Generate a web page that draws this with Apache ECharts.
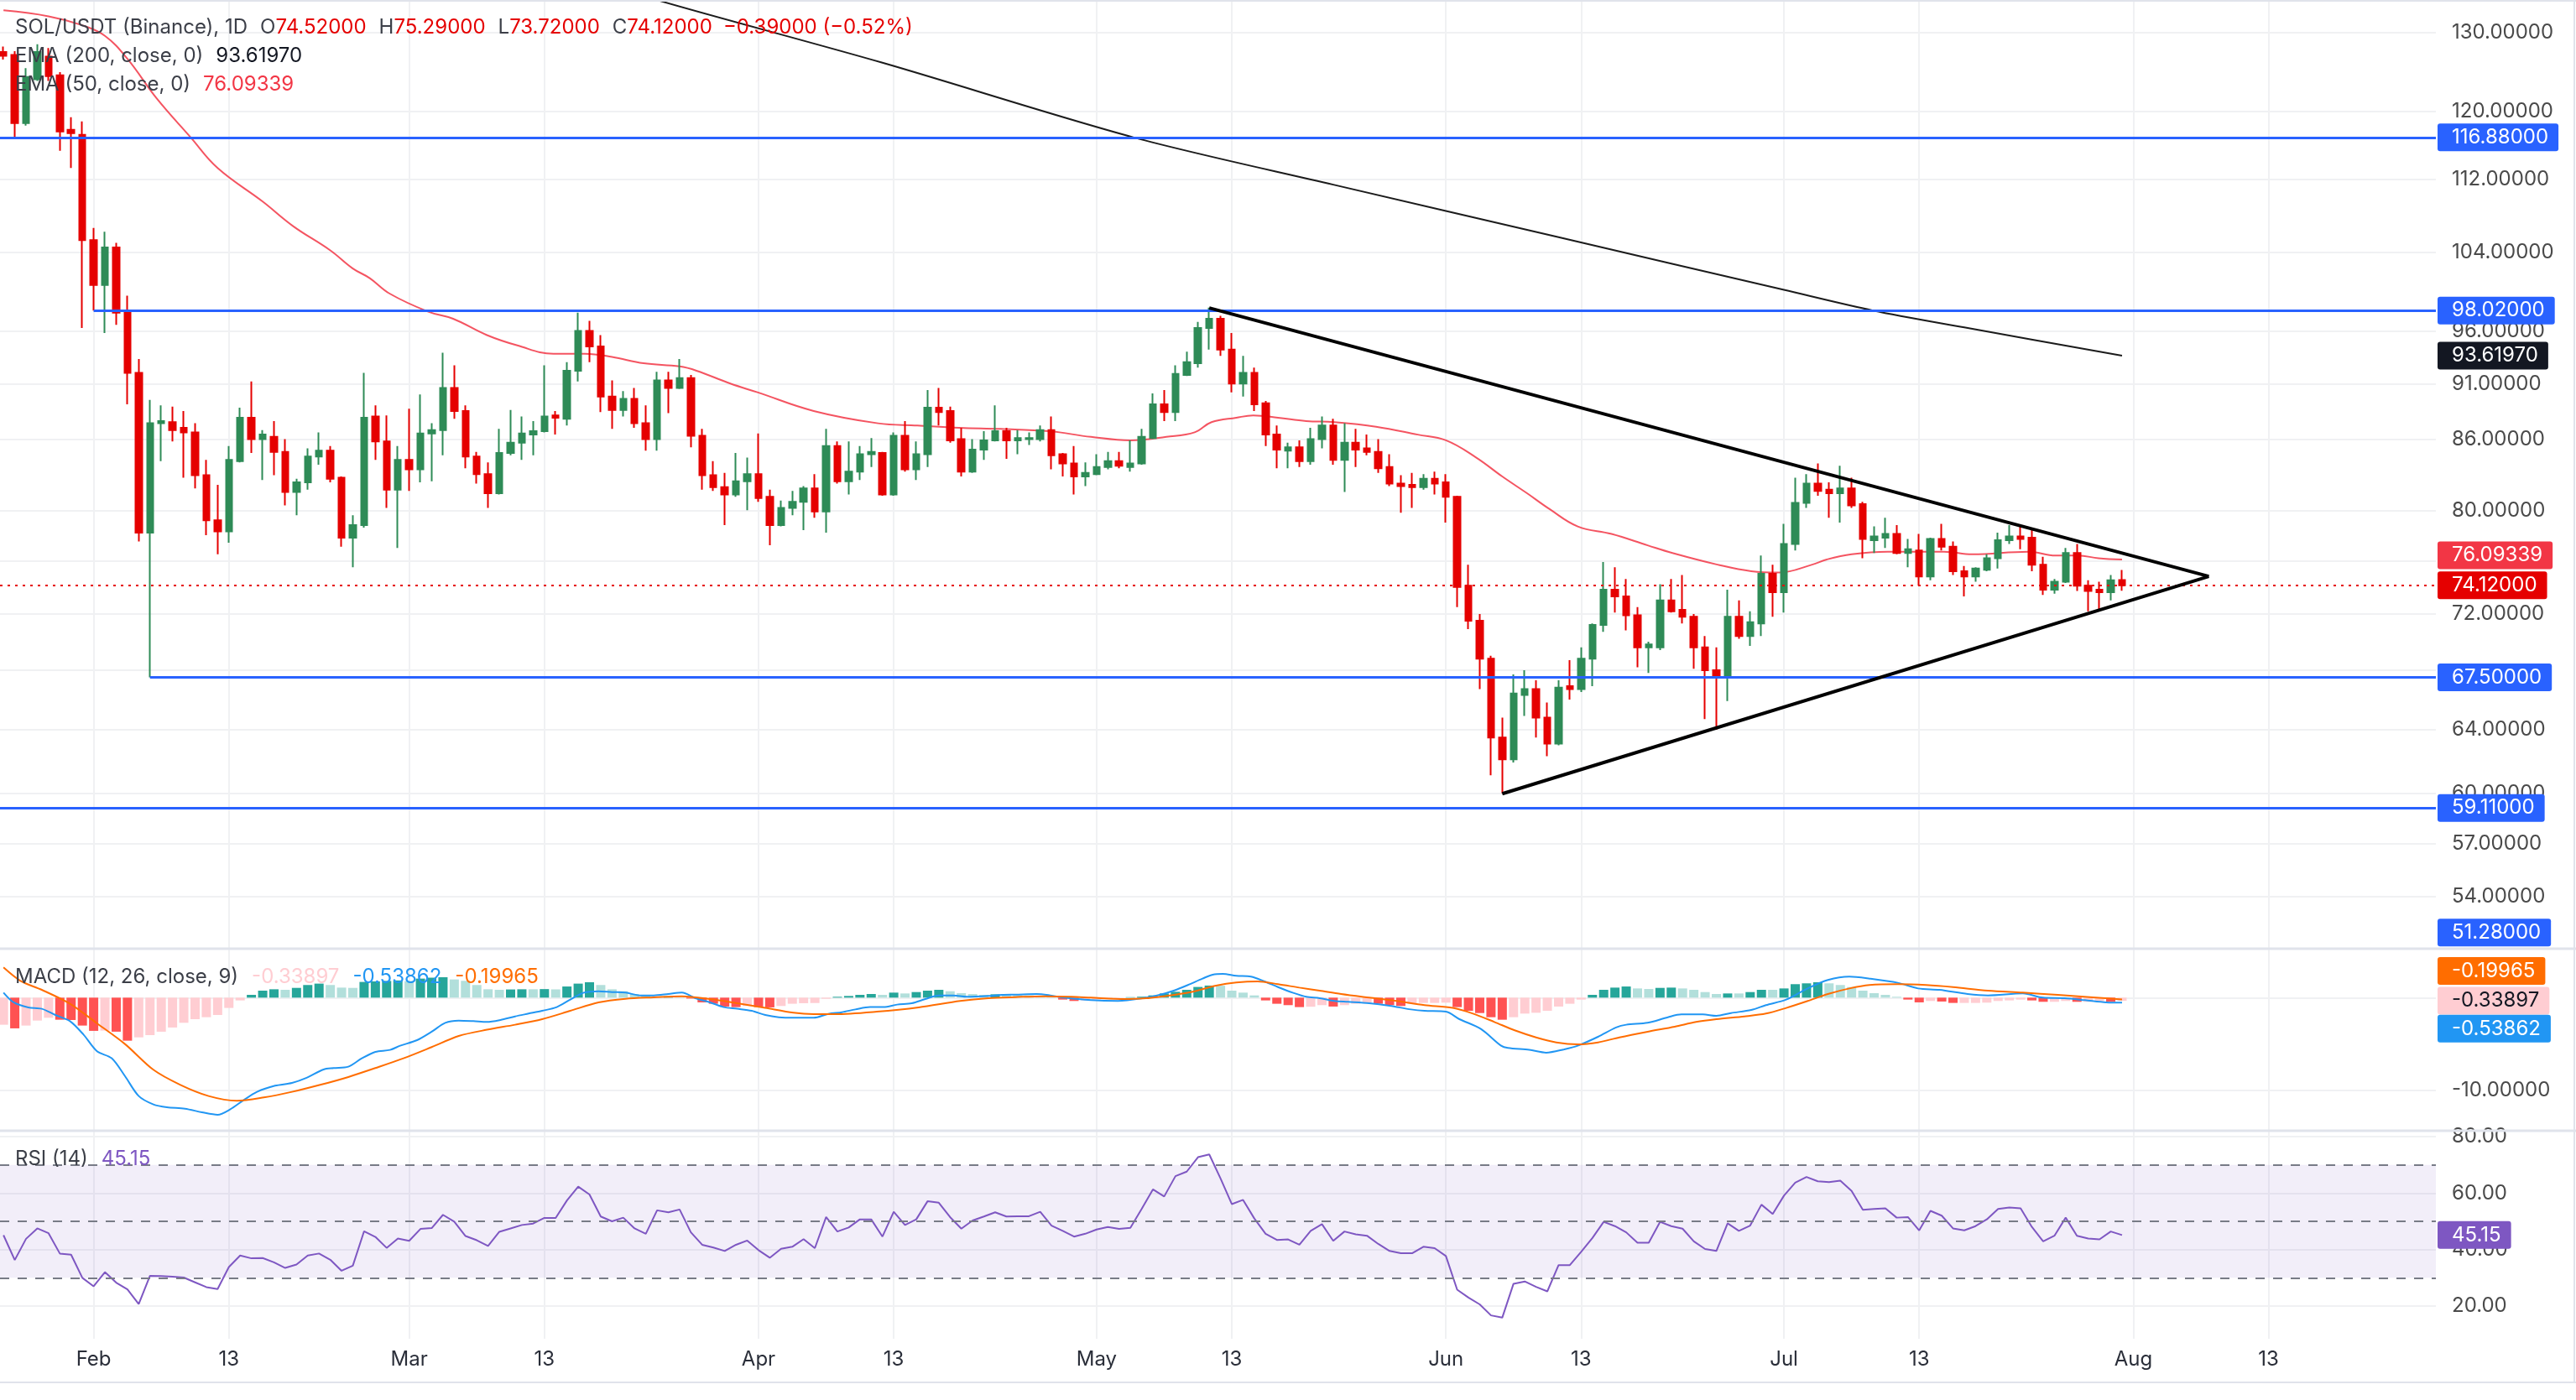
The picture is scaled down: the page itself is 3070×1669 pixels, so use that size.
<!DOCTYPE html>
<html><head><meta charset="utf-8">
<script src="https://cdn.jsdelivr.net/npm/echarts@6/dist/echarts.min.js"></script>
<style>html,body{margin:0;padding:0;background:#fff}#c{width:3070px;height:1669px}</style>
</head><body><div id="c"></div>
<script>
// ---------------- DATA ----------------
// day index: 0 = 1 Feb; first candle = 24 Jan (day -8)
const firstDay = -8;
// [open, high, low, close]
const candles = [
[127.5,128.2,126.5,127.0],[127.1,127.6,116.9,118.6],[118.6,125.4,118.3,124.3],[124.0,128.5,123.8,127.5],
[126.9,128.0,123.8,124.4],[124.5,124.9,115.3,117.6],[117.8,119.3,113.3,117.4],[117.2,118.8,96.3,105.3],
// Feb
[105.3,106.6,98.02,100.6],[100.6,106.2,95.8,104.5],[104.5,105.0,96.6,97.8],[97.8,99.5,89.1,92.0],
[92.0,93.3,77.5,78.2],[78.2,89.5,67.5,87.4],[87.4,89.0,84.1,87.6],[87.5,88.9,85.8,86.8],
[87.0,88.5,82.7,86.6],[86.6,87.4,81.8,82.9],[82.9,84.2,78.0,79.2],[79.2,82.1,76.5,78.3],
[78.3,85.4,77.4,84.2],[84.1,88.8,84.0,87.9],[87.9,91.2,84.8,86.0],[86.0,86.8,82.5,86.4],
[86.2,87.6,82.9,84.9],[84.9,86.0,80.4,81.5],[81.5,82.6,79.6,82.3],[82.3,85.2,81.7,84.5],
[84.5,86.6,83.8,85.0],[85.0,85.4,82.3,82.6],[82.7,82.8,77.1,77.8],[77.8,79.6,75.5,78.8],
[78.8,92.0,78.6,87.9],[88.0,89.0,84.2,85.8],[85.8,88.1,80.2,81.7],[81.7,85.4,77.0,84.2],
// Mar
[84.2,88.7,81.6,83.4],[83.4,90.0,82.3,86.5],[86.5,87.4,82.4,86.8],[86.8,93.9,84.6,90.6],
[90.6,92.7,87.8,88.5],[88.5,89.0,83.5,84.5],[84.5,84.9,82.2,83.0],[83.0,84.0,80.2,81.4],
[81.4,86.9,81.3,84.8],[84.8,88.6,84.6,85.7],[85.7,88.0,84.2,86.5],[86.4,87.6,84.6,86.7],
[86.7,92.7,86.6,88.0],[88.1,88.5,86.4,87.9],[87.8,93.0,87.2,92.2],[92.2,97.8,91.2,96.0],
[96.0,97.0,93.0,94.5],[94.5,95.6,88.4,89.8],[89.8,91.3,86.9,88.6],[88.6,90.3,88.0,89.6],
[89.6,90.6,87.0,87.4],[87.4,89.0,85.0,86.0],[86.0,92.1,85.0,91.3],[91.3,92.1,88.3,90.6],
[90.6,93.3,90.5,91.5],[91.5,91.8,85.3,86.3],[86.3,86.9,81.7,82.9],[82.9,84.1,81.6,81.9],
[81.9,83.1,78.8,81.3],[81.3,84.8,81.1,82.4],[82.4,84.4,80.0,83.0],
// Apr
[83.0,86.5,80.7,81.0],[81.1,81.7,77.2,78.8],[78.8,80.8,78.7,80.2],[80.2,81.6,79.6,80.7],
[80.7,82.0,78.4,81.8],[81.8,83.0,79.4,79.9],[79.9,86.9,78.2,85.4],[85.4,85.8,82.2,82.4],
[82.4,85.8,81.3,83.2],[83.2,85.4,82.5,84.7],[84.7,86.1,83.6,84.9],[84.8,84.9,81.2,81.3],
[81.3,86.6,81.2,86.3],[86.3,87.6,83.2,83.4],[83.4,85.8,82.5,84.7],[84.7,90.4,83.6,88.8],
[88.8,90.6,87.2,88.4],[88.5,88.9,85.7,85.9],[86.0,87.0,82.8,83.2],[83.2,86.0,83.1,85.1],
[85.1,86.7,84.2,85.9],[85.9,89.0,85.8,86.7],[86.7,87.0,84.3,85.9],[85.9,86.8,84.7,86.1],
[86.0,86.6,85.5,86.1],[86.0,87.2,85.8,86.8],[86.8,88.0,83.4,84.6],[84.7,84.8,82.8,83.9],
[83.9,85.4,81.3,82.8],[82.8,84.0,82.0,83.1],
// May
[83.0,84.7,82.9,83.6],[83.6,84.9,83.4,84.1],[84.1,84.9,83.5,83.7],[83.6,85.9,83.2,83.9],
[83.9,86.9,83.8,86.2],[86.1,90.1,86.0,89.1],[89.1,90.4,87.6,88.4],[88.4,92.7,87.6,91.9],
[91.8,94.0,91.7,93.0],[92.9,96.9,92.5,96.3],[96.3,98.3,94.2,97.2],[97.2,97.5,93.6,94.2],
[94.2,95.8,90.2,91.0],[91.0,93.6,89.8,92.0],[92.0,92.5,88.5,89.1],[89.2,89.4,85.4,86.4],
[86.4,87.2,83.5,85.1],[85.0,85.7,83.5,85.3],[85.3,85.9,83.6,84.1],[84.1,87.0,83.8,86.0],
[86.0,88.0,85.2,87.2],[87.2,87.8,83.8,84.2],[84.2,87.4,81.5,85.7],[85.7,86.9,83.6,85.1],
[85.2,86.4,84.6,84.9],[84.9,86.0,83.1,83.5],[83.6,84.7,82.0,82.2],[82.2,82.9,79.8,82.0],
[82.1,83.1,80.2,81.9],[81.9,83.0,81.7,82.6],[82.6,83.2,81.3,82.2],
// Jun
[82.3,83.0,79.0,81.1],[81.1,81.2,72.5,74.0],[74.1,75.7,70.9,71.5],[71.5,72.0,66.7,68.8],
[68.8,69.0,61.1,63.5],[63.5,64.8,60.0,62.1],[62.1,67.7,61.9,66.4],[66.3,68.0,64.9,66.7],
[66.7,67.3,63.5,64.8],[64.8,65.8,62.3,63.1],[63.1,67.3,63.0,66.8],[66.9,68.7,66.0,66.7],
[66.7,69.6,66.5,68.8],[68.8,71.3,66.9,71.2],[71.2,75.9,70.7,73.8],[73.8,75.5,72.1,73.3],
[73.3,74.6,70.8,71.9],[71.9,72.5,68.2,69.6],[69.6,70.0,67.8,69.8],[69.6,74.2,69.4,73.0],
[73.0,74.6,72.1,72.2],[72.3,74.9,71.3,71.8],[71.8,72.0,68.1,69.6],[69.6,70.4,64.7,68.0],
[68.0,69.6,64.0,67.6],[67.6,73.8,65.9,71.8],[71.8,73.0,70.2,70.4],[70.4,72.2,69.7,71.4],
[71.3,76.4,70.4,75.0],[75.0,75.7,71.8,73.6],
// Jul
[73.6,78.9,72.1,77.3],[77.3,82.7,76.8,80.6],[80.6,83.0,80.2,82.2],[82.2,83.9,81.2,81.6],
[81.7,82.3,79.4,81.4],[81.4,83.7,79.0,81.8],[81.8,82.7,80.2,80.4],[80.5,80.7,76.2,77.7],
[77.6,78.7,76.6,77.9],[77.8,79.4,77.0,78.1],[78.1,78.8,76.5,76.6],[76.6,77.7,75.5,76.9],
[76.8,78.1,74.1,74.8],[74.8,77.8,74.5,77.7],[77.7,78.9,76.8,77.1],[77.1,77.5,74.9,75.2],
[75.2,75.6,73.3,74.8],[74.8,75.5,74.4,75.4],[75.3,76.5,75.2,76.2],[76.2,78.2,75.4,77.6],
[77.6,78.8,77.3,77.9],[77.9,78.7,76.9,77.7],[77.8,78.5,75.2,75.7],[75.7,76.3,73.4,73.8],
[73.8,74.6,73.5,74.4],[74.4,77.0,74.3,76.6],[76.6,77.3,73.7,74.1],[74.1,74.5,72.2,73.7],
[73.8,74.4,72.2,73.6],[73.6,74.9,73.0,74.5],[74.52,75.29,73.72,74.12]
];
// EMA 50 read at points [day, value]
const ema50 = [[-8,133.0],[-4,132.2],[-1,131.0],[1,129.6],[3,126.6],[5.6,121.6],[8.6,116.9],[11,113.3],[15,109.5],[17.7,106.8],[21,104.2],[23,102.3],[24.5,101.3],[26.3,99.7],[29.7,97.9],[31.9,97.2],[34.9,95.6],[37.6,94.6],[40.8,93.8],[43.6,93.8],[46,93.5],[48.8,92.9],[52,92.6],[53.5,92.2],[56.5,91.0],[58.9,90.2],[63.9,88.5],[69.6,87.4],[73.1,87.2],[76.8,87.0],[80.5,86.9],[84.8,86.7],[88.5,86.2],[92,85.9],[95.2,86.2],[97.7,86.6],[99.2,87.5],[101.4,87.9],[102.9,88.1],[105.1,87.9],[107.6,87.6],[110.1,87.5],[113.8,87.1],[117.5,86.4],[120,85.9],[122.7,84.4],[125,82.8],[127.2,81.4],[129.2,80.1],[131.7,78.7],[134.7,78.1],[137.9,77.2],[140.1,76.6],[144.1,75.7],[147.1,75.2],[149.6,75.1],[152.5,75.7],[153.8,76.1],[156,76.5],[159.2,76.7],[164.2,76.7],[166.7,76.5],[171.7,76.7],[174.1,76.4],[176.1,76.4],[177.9,76.2],[180,76.09339]];
// EMA 200 read at points [day, value]
const ema200 = [[-8,164],[10,154],[30,144],[50,134.4],[70,126.1],[92.3,116.88],[110,111.4],[130,105.6],[150,100.1],[157.9,98.02],[166,96.35],[180,93.6197]];
// MACD line / signal read at points [day, value]
const macdLine = [[-8,0.54],[-7.1,-0.51],[-5.8,-1.05],[-4.6,-1.2],[-3.4,-1.87],[-2.1,-2.53],[-0.9,-3.98],[0.3,-5.78],[1.6,-6.53],[2.8,-8.49],[4.0,-10.6],[5.3,-11.5],[6.5,-11.81],[8.1,-11.96],[9.6,-12.35],[11,-12.62],[12.1,-12.05],[13.3,-11.05],[14.5,-10.15],[16.1,-9.49],[17.6,-9.19],[18.9,-8.64],[20.4,-7.74],[21.3,-7.59],[22.6,-7.44],[23.8,-6.54],[25,-5.84],[26.3,-5.63],[27.2,-5.18],[28.7,-4.58],[30,-3.67],[31.2,-2.71],[32.4,-2.47],[33.7,-2.53],[34.9,-2.62],[36.1,-2.41],[37.4,-2.02],[38.6,-1.72],[39.8,-1.42],[41.1,-1.02],[42.3,-0.21],[43.5,0.54],[44.8,0.69],[46,0.6],[47.2,0.54],[48.5,0.24],[49.7,0.24],[51,0.39],[52.2,0.54],[53.4,-0.06],[54.7,-0.51],[55.9,-1.02],[57.1,-1.2],[58.4,-1.42],[59.6,-1.87],[60.8,-2.11],[62.1,-2.17],[63.9,-2.17],[65.2,-1.75],[66.4,-1.57],[67.6,-1.27],[68.9,-1.02],[70.1,-1.02],[71.3,-0.75],[72.6,-0.6],[73.8,-0.15],[75,0.24],[76.3,0.24],[77.5,0.09],[79.4,0.18],[80.6,0.3],[81.8,0.33],[83.7,0.39],[84.9,0.24],[86.1,0.0],[88.5,-0.27],[90.9,-0.36],[93.4,0.0],[94.6,0.3],[95.9,0.78],[97.1,1.36],[98.4,2.05],[99.3,2.47],[100.2,2.56],[101.4,2.35],[102.7,2.26],[103.9,1.75],[105.1,1.14],[106.4,0.54],[107.6,0.09],[108.8,-0.06],[110.1,-0.36],[111.3,-0.45],[113.2,-0.6],[115,-0.87],[116.9,-1.27],[118.1,-1.42],[120,-1.51],[121.2,-2.32],[123.1,-3.37],[124.9,-5.18],[125.5,-5.42],[127.4,-5.63],[128.9,-5.93],[130.5,-5.57],[131.7,-5.18],[133.5,-4.22],[135.1,-3.22],[136,-2.92],[137.9,-2.71],[139.7,-2.11],[140.9,-1.81],[142.8,-1.81],[144,-1.96],[145.3,-1.66],[147.1,-1.33],[148.4,-0.81],[150.2,-0.21],[152.1,0.99],[153.9,1.9],[155.8,2.26],[157.6,2.05],[160.1,1.6],[161.9,0.99],[163.8,0.84],[166.3,0.39],[168.1,0.24],[171.2,0.45],[173,0.0],[174.9,-0.06],[176.7,-0.27],[178.6,-0.51],[180,-0.53862]];
const signalLine = [[-8,3.25],[-6.5,1.81],[-4.6,0.84],[-2.1,-0.66],[0.3,-2.77],[2.8,-5.02],[5.3,-7.77],[7.7,-9.4],[10.2,-10.6],[12.7,-11.11],[15.1,-10.75],[17.6,-10.15],[20.1,-9.4],[22.6,-8.55],[25,-7.59],[27.5,-6.54],[30,-5.33],[32.4,-4.13],[34.9,-3.46],[37.4,-2.92],[39.8,-2.32],[42.3,-1.42],[44.8,-0.51],[47.2,-0.12],[49.7,0.03],[52.2,0.15],[54.7,-0.15],[57.1,-0.6],[59.6,-1.11],[62.1,-1.63],[63.9,-1.78],[65.8,-1.78],[69.5,-1.51],[73.2,-1.05],[76.9,-0.36],[79.4,-0.06],[81.8,0.06],[84.3,0.15],[86.8,0.09],[88.5,0.0],[91.5,-0.15],[93.4,-0.06],[94.6,0.09],[95.9,0.3],[97.7,0.69],[99.6,1.29],[101.4,1.63],[103.3,1.75],[105.1,1.45],[107,1.08],[108.8,0.75],[110.7,0.39],[113.2,0.0],[115.6,-0.36],[118.1,-0.81],[120.6,-1.11],[122.4,-1.72],[124.3,-2.62],[126.1,-3.52],[128,-4.28],[129.8,-4.82],[131.7,-5.03],[133.5,-4.82],[135.4,-4.28],[137.9,-3.67],[140.3,-3.13],[142.2,-2.62],[144,-2.32],[146.5,-2.02],[148.4,-1.72],[150.2,-1.11],[152.1,-0.36],[153.9,0.39],[155.8,0.99],[157.6,1.36],[160.1,1.45],[162.6,1.36],[165,1.14],[168.1,0.75],[171.2,0.54],[174.3,0.3],[177.4,0.03],[180,-0.19965]];
// MACD histogram, one per candle
const macdHist = [
-2.92,-3.31,-3.01,-2.47,-2.17,-2.38,-2.41,-3.01,-3.58,-3.55,-3.67,-4.64,-4.28,-4.04,-3.67,-3.22,-2.71,-2.32,-2.11,-1.87,-1.11,-0.30,
0.30,0.75,0.90,0.84,1.05,1.36,1.51,1.36,1.08,1.05,1.69,1.75,1.80,1.85,1.78,2.05,2.15,2.2,1.96,1.81,1.36,0.90,0.84,0.88,0.90,0.90,0.92,0.89,1.2,1.51,1.66,1.36,0.90,0.69,0.39,0.24,
0.12,0.15,0.05,-0.1,-0.51,-0.66,-0.96,-1.02,-0.9,-1.02,-1.05,-0.9,-0.66,-0.6,-0.58,-0.12,0.09,0.18,0.30,0.39,0.30,0.54,0.45,0.60,0.75,0.84,0.69,0.48,0.39,0.30,0.36,0.30,0.24,0.24,0.18,0.09,-0.21,-0.36,-0.30,
-0.2,-0.1,-0.03,0.05,0.1,0.24,0.45,0.63,0.84,1.15,1.3,1.28,0.75,0.54,0.24,-0.30,-0.66,-0.81,-1.02,-0.98,-0.81,-0.96,-0.81,-0.66,-0.57,-0.66,-0.81,-0.9,-0.66,-0.57,-0.57,-0.54,-1.02,-1.42,-1.66,-2.11,-2.38,-2.11,-1.72,-1.63,-1.42,-0.96,-0.66,-0.21,0.30,0.84,1.08,1.2,0.99,0.93,1.05,1.08,0.99,0.84,0.6,0.39,0.45,0.45,0.6,0.84,0.84,0.99,1.45,1.54,1.66,1.54,1.36,1.14,0.75,0.48,0.3,0.09,-0.21,-0.51,-0.36,-0.42,-0.57,-0.57,-0.57,-0.54,-0.36,-0.3,-0.21,-0.3,-0.45,-0.45,-0.36,-0.45,-0.45,-0.38,-0.45,-0.33897
];
// RSI(14), one per candle
const rsi = [
45.1,36.3,43.8,47.5,45.8,38.6,38.2,30.0,27.0,32.0,28.3,25.9,20.7,30.7,30.6,30.4,30.1,28.4,26.7,26.0,33.8,37.9,
36.9,37.0,35.5,33.5,34.7,37.9,38.6,36.4,32.5,34.3,46.5,44.5,40.6,43.9,43.1,47.3,47.6,52.3,49.9,44.8,43.3,41.3,46.3,47.5,48.7,49.2,51.2,51.2,57.4,62.3,59.5,51.7,50.0,51.3,47.5,45.6,
53.9,53.2,54.2,46.1,41.7,40.7,39.5,41.7,43.2,39.8,37.1,40.3,41.0,43.7,40.5,51.5,46.4,47.8,50.7,50.7,44.6,53.4,48.7,50.7,57.1,56.6,51.5,47.4,50.3,51.7,53.2,51.7,51.8,51.8,53.4,48.5,46.6,44.6,45.6,
47.1,48.0,47.3,47.7,54.4,61.3,58.8,66.0,67.6,72.7,73.7,65.2,56.1,57.6,51.0,45.6,43.4,43.6,41.7,46.6,49.0,43.1,46.4,45.4,44.9,42.0,39.5,38.7,38.7,41.0,40.5,37.7,25.8,23.0,20.6,16.7,15.9,27.9,28.7,26.8,25.2,34.5,34.5,39.2,44.1,49.8,48.3,46.1,42.4,42.4,49.8,48.3,47.4,42.9,40.2,39.5,49.3,46.6,48.5,55.9,52.6,59.1,63.7,65.7,64.2,63.9,64.4,60.8,54.1,54.4,54.6,51.3,51.5,46.8,53.7,52.0,47.5,46.8,48.3,50.7,54.4,54.9,54.6,48.0,42.9,44.9,51.3,44.9,43.9,43.6,46.4,45.15
];
// Horizontal levels (price, start day or null for full width)
const levels = [[116.88, null], [98.02, 0], [67.5, 5], [59.11, null]];
const scaleBottomTag = 51.28;
// Triangle drawing: [day, price]
const triUpper = [[99, 98.28], [187.7, 74.8]];
const triLower = [[125, 59.97], [187.7, 74.8]];
// Axis ticks
const xTickDays = [0, 12, 28, 40, 59, 71, 89, 101, 120, 132, 150, 162, 181, 193];
const xTickLabels = ['Feb', '13', 'Mar', '13', 'Apr', '13', 'May', '13', 'Jun', '13', 'Jul', '13', 'Aug', '13'];
const priceGridTicks = [54, 57, 60, 64, 68, 72, 76, 80, 86, 91, 96, 104, 112, 120, 130];
const priceLabelTicks = [54, 57, 60, 64, 72, 80, 86, 91, 96, 104, 112, 120, 130];
const macdTicks = [0, -10];
const macdLabelTicks = [-10];
const rsiTicks = [20, 40, 60, 80];
const last = {open: 74.52, high: 75.29, low: 73.72, close: 74.12, chg: -0.39, pct: -0.52};

// ---------------- CHART ----------------
const FONT = 'Inter, "Liberation Sans", Arial, sans-serif';
const UP = '#2E8B57', DN = '#E50000', BLUE = '#2962FF';
const GRIDC = '#F0F1F3';
const X_MIN = -8.31, X_MAX = 207.85;
const chart = echarts.init(document.getElementById('c'), null, {renderer: 'canvas'});

function tag(text, bg, fg, dy) {
  const l = {show: true, position: 'end', distance: 2, formatter: text, color: fg, backgroundColor: bg,
    padding: [4, 12, 3, 17], fontSize: 24, lineHeight: 26, fontFamily: FONT, borderRadius: 3};
  if (dy) l.offset = [0, dy];
  return l;
}
const hidden = {color: 'rgba(0,0,0,0)', width: 1, type: 'solid'};

const levelLines = levels.map(([p, from]) => {
  const ls = {color: BLUE, width: 3, type: 'solid'};
  const lb = tag(p.toFixed(5), BLUE, '#fff');
  if (from === null) return {yAxis: p, lineStyle: ls, label: lb};
  return [{coord: [from, p], lineStyle: ls, label: lb}, {coord: [X_MAX, p]}];
});

function xAxisCfg(i, showLabels) {
  return {
    type: 'value', gridIndex: i, min: X_MIN, max: X_MAX,
    axisLine: {show: false},
    axisTick: {show: false, customValues: xTickDays},
    splitLine: {show: true, lineStyle: {color: GRIDC, width: 2}},
    axisLabel: {show: showLabels, customValues: xTickDays, color: '#2a2e39', fontSize: 24, fontFamily: FONT, margin: 13,
      formatter: v => { const k = xTickDays.indexOf(Math.round(v)); return k >= 0 ? xTickLabels[k] : ''; }}
  };
}
const yLabelStyle = {color: '#4a4a4a', fontSize: 24, fontFamily: FONT, margin: 19};
const lg = (fill, pad) => ({fill: fill, fontSize: 24, fontFamily: FONT, padding: [0, 0, 0, pad || 0]});
const GREY = '#3c3f48';

const option = {
  animation: false,
  backgroundColor: '#ffffff',
  grid: [
    {left: 0, top: 0, width: 2903, height: 1130},
    {left: 0, top: 1132, width: 2903, height: 215},
    {left: 0, top: 1349, width: 2903, height: 247}
  ],
  xAxis: [xAxisCfg(0, false), xAxisCfg(1, false), xAxisCfg(2, true)],
  yAxis: [
    {type: 'log', logBase: 10, gridIndex: 0, position: 'right', min: 51.27, max: 134.41,
      axisLine: {show: false}, axisTick: {show: false, customValues: priceGridTicks},
      splitLine: {show: true, lineStyle: {color: GRIDC, width: 2}},
      axisLabel: Object.assign({customValues: priceLabelTicks, formatter: v => Number(v).toFixed(5)}, yLabelStyle)},
    {type: 'value', gridIndex: 1, position: 'right', min: -14.25, max: 5.18,
      axisLine: {show: false}, axisTick: {show: false, customValues: macdTicks},
      splitLine: {show: true, lineStyle: {color: GRIDC, width: 2}},
      axisLabel: Object.assign({customValues: macdLabelTicks, formatter: v => Number(v).toFixed(5)}, yLabelStyle)},
    {type: 'value', gridIndex: 2, position: 'right', min: 8.42, max: 81.78,
      axisLine: {show: false}, axisTick: {show: false, customValues: rsiTicks},
      splitLine: {show: true, lineStyle: {color: GRIDC, width: 2}},
      axisLabel: Object.assign({customValues: rsiTicks, formatter: v => Number(v).toFixed(2)}, yLabelStyle)}
  ],
  series: [
    {type: 'candlestick', name: 'SOL', xAxisIndex: 0, yAxisIndex: 0, barWidth: 8, z: 3,
      encode: {x: 0, y: [1, 2, 3, 4]},
      data: candles.map((c, i) => [firstDay + i, c[0], c[3], c[2], c[1]]),
      itemStyle: {color: UP, color0: DN, borderColor: UP, borderColor0: DN, borderWidth: 2},
      markLine: {silent: true, symbol: ['none', 'none'], animation: false, z: 5,
        data: levelLines.concat([
          {yAxis: last.close, lineStyle: {color: DN, width: 2, type: [3, 6]}, label: tag(last.close.toFixed(5), DN, '#fff')},
          {yAxis: scaleBottomTag, lineStyle: hidden, label: tag(scaleBottomTag.toFixed(5), BLUE, '#fff', -18)}
        ])}
    },
    {type: 'line', name: 'EMA200', xAxisIndex: 0, yAxisIndex: 0, data: ema200, showSymbol: false, smooth: 0.3, z: 2,
      lineStyle: {color: '#1b1b1b', width: 2},
      markLine: {silent: true, symbol: ['none', 'none'], animation: false, z: 5,
        data: [{yAxis: ema200[ema200.length - 1][1], lineStyle: hidden, label: tag(ema200[ema200.length - 1][1].toFixed(5), '#131722', '#fff')}]}},
    {type: 'line', name: 'EMA50', xAxisIndex: 0, yAxisIndex: 0, data: ema50, showSymbol: false, smooth: 0.4, z: 2,
      lineStyle: {color: '#F23645', width: 2, opacity: 0.85},
      markLine: {silent: true, symbol: ['none', 'none'], animation: false, z: 5,
        data: [{yAxis: ema50[ema50.length - 1][1], lineStyle: hidden, label: tag(ema50[ema50.length - 1][1].toFixed(5), '#F23645', '#fff', -5)}]}},
    {type: 'line', name: 'TriUpper', xAxisIndex: 0, yAxisIndex: 0, data: triUpper, showSymbol: false, z: 6,
      lineStyle: {color: '#000', width: 4}},
    {type: 'line', name: 'TriLower', xAxisIndex: 0, yAxisIndex: 0, data: triLower, showSymbol: false, z: 6,
      lineStyle: {color: '#000', width: 4}},
    {type: 'bar', name: 'Hist', xAxisIndex: 1, yAxisIndex: 1, barWidth: 11,
      data: macdHist.map((v, i) => {
        const p = i > 0 ? macdHist[i - 1] : null;
        let col;
        if (v >= 0) col = (p === null || v > p) ? '#26A69A' : '#B2DFDB';
        else col = (p !== null && v < p) ? '#FF5252' : '#FFCDD2';
        return {value: [firstDay + i, v], itemStyle: {color: col}};
      }),
      markLine: {silent: true, symbol: ['none', 'none'], animation: false, z: 5,
        data: [{yAxis: macdHist[macdHist.length - 1], lineStyle: hidden, label: tag(macdHist[macdHist.length - 1].toFixed(5), '#FFCDD2', '#131722')}]}},
    {type: 'line', name: 'MACD', xAxisIndex: 1, yAxisIndex: 1, data: macdLine, showSymbol: false, smooth: 0.3, z: 3,
      lineStyle: {color: '#2196F3', width: 2},
      markLine: {silent: true, symbol: ['none', 'none'], animation: false, z: 5,
        data: [{yAxis: macdLine[macdLine.length - 1][1], lineStyle: hidden, label: tag(macdLine[macdLine.length - 1][1].toFixed(5), '#2196F3', '#fff', 31)}]}},
    {type: 'line', name: 'Signal', xAxisIndex: 1, yAxisIndex: 1, data: signalLine, showSymbol: false, smooth: 0.3, z: 3,
      lineStyle: {color: '#FF6D00', width: 2},
      markLine: {silent: true, symbol: ['none', 'none'], animation: false, z: 5,
        data: [{yAxis: signalLine[signalLine.length - 1][1], lineStyle: hidden, label: tag(signalLine[signalLine.length - 1][1].toFixed(5), '#FF6D00', '#fff', -34)}]}},
    {type: 'line', name: 'RSI', xAxisIndex: 2, yAxisIndex: 2, data: rsi.map((v, i) => [firstDay + i, v]), showSymbol: false, z: 3,
      lineStyle: {color: '#7E57C2', width: 2},
      markArea: {silent: true, itemStyle: {color: 'rgba(126,87,194,0.1)'}, data: [[{yAxis: 30}, {yAxis: 70}]]},
      markLine: {silent: true, symbol: ['none', 'none'], animation: false, z: 5,
        data: [
          {yAxis: 70, lineStyle: {color: '#787B86', width: 2, type: [11, 10]}, label: {show: false}},
          {yAxis: 50, lineStyle: {color: '#787B86', width: 2, type: [11, 10]}, label: {show: false}},
          {yAxis: 30, lineStyle: {color: '#787B86', width: 2, type: [11, 10]}, label: {show: false}},
          {yAxis: rsi[rsi.length - 1], lineStyle: hidden, label: tag(rsi[rsi.length - 1].toFixed(2), '#7E57C2', '#fff')}
        ]}}
  ],
  graphic: [
    {type: 'line', shape: {x1: 0, y1: 1131, x2: 3070, y2: 1131}, style: {stroke: '#E0E3EB', lineWidth: 3}, z: 10},
    {type: 'line', shape: {x1: 0, y1: 1348, x2: 3070, y2: 1348}, style: {stroke: '#E0E3EB', lineWidth: 3}, z: 10},
    {type: 'line', shape: {x1: 0, y1: 1648, x2: 3070, y2: 1648}, style: {stroke: '#E0E3EB', lineWidth: 2}, z: 10},
    {type: 'line', shape: {x1: 0, y1: 1, x2: 3070, y2: 1}, style: {stroke: '#E0E3EB', lineWidth: 2}, z: 10},
    {type: 'line', shape: {x1: 3068, y1: 0, x2: 3068, y2: 1648}, style: {stroke: '#E0E3EB', lineWidth: 2}, z: 10},
    {type: 'text', x: 18, y: 33, z: 20, style: {
      text: '{t|SOL/USDT (Binance), 1D}{l|O}{v|' + last.open.toFixed(5) + '}{l|H}{v|' + last.high.toFixed(5) + '}{l|L}{v|' + last.low.toFixed(5) + '}{l|C}{v|' + last.close.toFixed(5) + '}{c|' + last.chg.toFixed(5).replace('-', '\u2212') + ' (' + last.pct.toFixed(2).replace('-', '\u2212') + '%)}',
      verticalAlign: 'middle', font: '24px ' + FONT,
      rich: {t: lg(GREY), l: lg(GREY, 15), v: lg(DN), c: lg(DN, 13)}}},
    {type: 'text', x: 18, y: 67, z: 20, style: {
      text: '{t|EMA (200, close, 0)}{v|' + ema200[ema200.length - 1][1].toFixed(5) + '}', verticalAlign: 'middle', font: '24px ' + FONT,
      rich: {t: lg(GREY), v: lg('#131722', 15)}}},
    {type: 'text', x: 18, y: 101, z: 20, style: {
      text: '{t|EMA (50, close, 0)}{v|' + ema50[ema50.length - 1][1].toFixed(5) + '}', verticalAlign: 'middle', font: '24px ' + FONT,
      rich: {t: lg(GREY), v: lg('#F23645', 15)}}},
    {type: 'text', x: 18, y: 1165, z: 20, style: {
      text: '{t|MACD (12, 26, close, 9)}{h|' + macdHist[macdHist.length - 1].toFixed(5) + '}{m|' + macdLine[macdLine.length - 1][1].toFixed(5) + '}{s|' + signalLine[signalLine.length - 1][1].toFixed(5) + '}',
      verticalAlign: 'middle', font: '24px ' + FONT,
      rich: {t: lg(GREY), h: lg('#FFCDD2', 16), m: lg('#2196F3', 16), s: lg('#FF6D00', 16)}}},
    {type: 'text', x: 18, y: 1382, z: 20, style: {
      text: '{t|RSI (14)}{v|' + rsi[rsi.length - 1].toFixed(2) + '}', verticalAlign: 'middle', font: '24px ' + FONT,
      rich: {t: lg(GREY), v: lg('#7E57C2', 16)}}}
  ]
};
chart.setOption(option);
</script></body></html>
